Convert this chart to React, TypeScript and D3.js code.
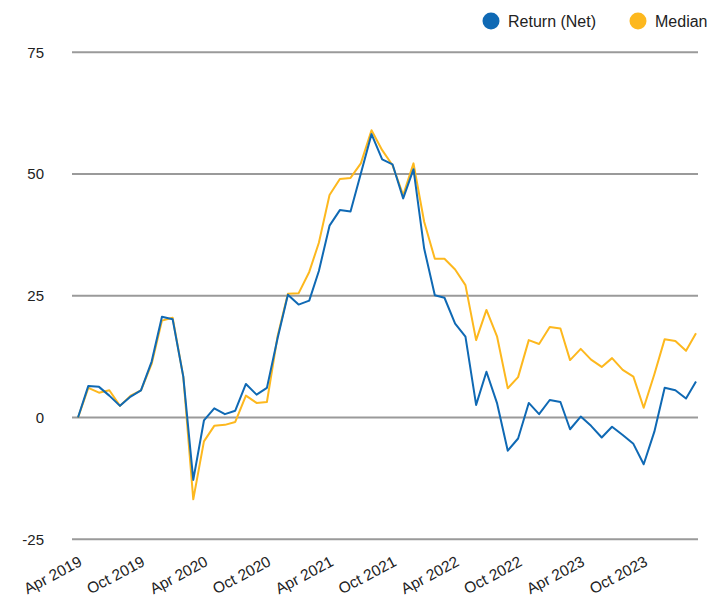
import { useEffect, useRef } from 'react';
import * as d3 from 'd3';

// monthly points, Apr 2019 .. Mar 2024
const startMonth = new Date(2019, 3, 1);
const endMonth = new Date(2024, 2, 1);

const returnNet = [
  0, 6.5, 6.3, 4.5, 2.4, 4.3, 5.6, 11.5, 20.7, 20.2,
  8.4, -12.8, -0.6, 1.9, 0.7, 1.4, 6.9, 4.7, 6.1, 16.3,
  25.2, 23.2, 24.0, 30.1, 39.4, 42.6, 42.3, 50.1, 58.2, 53.0,
  52.0, 45.0, 51.0, 34.7, 25.1, 24.6, 19.3, 16.6, 2.6, 9.4,
  2.9, -6.8, -4.3, 3.0, 0.7, 3.6, 3.2, -2.4, 0.2, -1.7,
  -4.1, -1.9, -3.6, -5.4, -9.6, -2.9, 6.1, 5.6, 3.9, 7.4,
];

const median = [
  0, 6.1, 5.1, 5.6, 2.4, 4.5, 5.6, 11.0, 19.9, 20.5,
  8.4, -16.8, -4.9, -1.7, -1.5, -0.9, 4.5, 3.0, 3.2, 16.7,
  25.4, 25.5, 29.9, 35.9, 45.7, 49.0, 49.2, 52.2, 59.0, 54.9,
  51.8, 45.7, 52.2, 40.2, 32.6, 32.6, 30.4, 27.2, 15.9, 22.1,
  16.6, 6.0, 8.3, 15.9, 15.1, 18.6, 18.3, 11.8, 14.1, 11.9,
  10.4, 12.2, 9.8, 8.4, 2.0, 8.9, 16.1, 15.7, 13.7, 17.3,
];

const yTicks = [-25, 0, 25, 50, 75];
const seriesNames = ['Return (Net)', 'Median'];
const seriesColors = ['#0f69b4', '#fdb81e'];

const App = () => {
  const svgRef = useRef<SVGSVGElement>(null);

  useEffect(() => {
    if (!svgRef.current) return;
    const svg = d3.select(svgRef.current);
    svg.selectAll('*').remove();

    const font = 'Arial, "Liberation Sans", sans-serif';
    const months = d3.timeMonth.range(startMonth, d3.timeMonth.offset(endMonth, 1));

    const x = d3.scaleTime().domain([startMonth, endMonth]).range([78, 696]);
    const y = d3.scaleLinear().domain([-25, 75]).range([539.3, 52.3]);

    // gridlines
    svg
      .selectAll('.grid')
      .data(yTicks)
      .enter()
      .append('line')
      .attr('x1', 72)
      .attr('x2', 698)
      .attr('y1', (d) => y(d))
      .attr('y2', (d) => y(d))
      .attr('stroke', '#9a9a9a')
      .attr('stroke-width', 2);

    svg
      .selectAll('.ylab')
      .data(yTicks)
      .enter()
      .append('text')
      .attr('x', 44)
      .attr('y', (d) => y(d))
      .attr('dy', '0.35em')
      .attr('text-anchor', 'end')
      .attr('font-family', font)
      .attr('font-size', 15)
      .attr('fill', '#222')
      .text((d) => d);

    // x labels every 6 months
    const xTicks = months.filter((_, i) => i % 6 === 0);
    const fmt = d3.timeFormat('%b %Y');
    svg
      .selectAll('.xlab')
      .data(xTicks)
      .enter()
      .append('text')
      .attr('transform', (d) => `translate(${x(d) + 5},565) rotate(-28)`)
      .attr('text-anchor', 'end')
      .attr('font-family', font)
      .attr('font-size', 15.5)
      .attr('fill', '#222')
      .text((d) => fmt(d));

    const line = d3
      .line<number>()
      .x((_, i) => x(months[i]))
      .y((d) => y(d));

    [median, returnNet].forEach((values, k) => {
      svg
        .append('path')
        .datum(values)
        .attr('fill', 'none')
        .attr('stroke', seriesColors[1 - k])
        .attr('stroke-width', 2)
        .attr('stroke-linejoin', 'round')
        .attr('d', line);
    });

    // legend
    const legendX = [491, 638];
    const legend = svg
      .selectAll('.legend')
      .data(seriesNames)
      .enter()
      .append('g')
      .attr('transform', (_, i) => `translate(${legendX[i]},21)`);
    legend
      .append('circle')
      .attr('r', 8.5)
      .attr('fill', (_, i) => seriesColors[i]);
    legend
      .append('text')
      .attr('x', 17)
      .attr('dy', '0.35em')
      .attr('font-family', font)
      .attr('font-size', 16)
      .attr('fill', '#222')
      .text((d) => d);
  }, []);

  return (
    <div style={{ position: 'absolute', left: 0, top: 0 }}>
      <svg ref={svgRef} width={707} height={604} style={{ display: 'block' }}></svg>
    </div>
  );
};

export default App;
